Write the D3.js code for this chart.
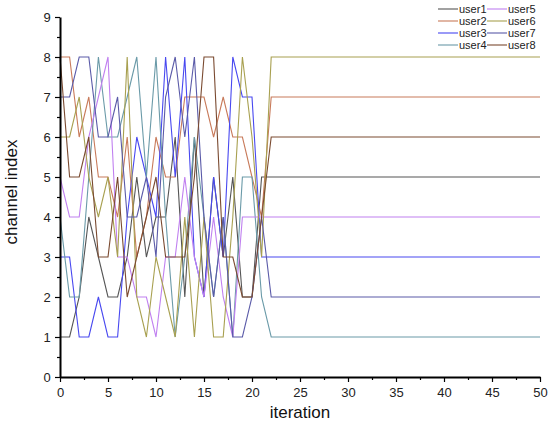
<!DOCTYPE html>
<html><head><meta charset="utf-8">
<script src="https://cdn.jsdelivr.net/npm/d3@7/dist/d3.min.js"></script>
<style>body{margin:0;background:#fff;font-family:"Liberation Sans",Arial,sans-serif}</style>
</head><body><svg id="c" width="550" height="434"></svg>
<script>
const iterations = [0,1,2,3,4,5,6,7,8,9,10,11,12,13,14,15,16,17,18,19,20,21,22,50];
const user1 = [1,1,2,4,3,2,2,3,5,3,4,4,6,2,6,2,5,3,5,2,2,5,5,5];
const user2 = [8,8,6,7,5,5,4,6,3,4,6,5,5,7,7,7,6,7,6,6,5,4,7,7];
const user3 = [3,3,1,1,2,1,1,4,6,5,4,8,5,8,3,2,5,3,8,7,7,3,3,3];
const user4 = [4,2,2,5,8,6,6,7,8,5,8,4,1,3,6,4,2,4,1,5,5,2,1,1];
const user5 = [5,4,4,6,7,8,3,3,2,2,1,3,3,5,3,2,4,2,1,4,4,4,4,4];
const user6 = [6,6,7,5,4,5,3,8,2,1,3,2,1,4,1,4,1,1,4,8,6,3,8,8];
const user7 = [7,7,8,8,6,6,7,4,4,5,3,7,8,6,8,4,2,4,1,1,2,4,2,2];
const user8 = [8,5,5,6,3,3,5,2,3,4,5,3,3,3,5,8,8,3,3,2,2,4,6,6];
const seriesNames = ["user1","user2","user3","user4","user5","user6","user7","user8"];
const seriesValues = [user1,user2,user3,user4,user5,user6,user7,user8];
const colors = ["#555555","#c87a5a","#4848f0","#6a9aa8","#c080f0","#a8a050","#5a5aa8","#7a4a30"];
const xTicks = [0,5,10,15,20,25,30,35,40,45,50];
const yTicks = [0,1,2,3,4,5,6,7,8,9];

const svg = d3.select("#c");
const x = d3.scaleLinear().domain([0,50]).range([60,540]);
const y = d3.scaleLinear().domain([0,9]).range([377,17]);

const line = d3.line().x((d,i)=>x(iterations[i])).y(d=>y(d));
seriesValues.forEach((vals,k)=>{
  svg.append("path").datum(vals).attr("d",line)
    .attr("fill","none").attr("stroke",colors[k]).attr("stroke-width",1.1);
});

// axes
const xAxis = svg.append("g").attr("transform","translate(0,377)")
  .call(d3.axisBottom(x).tickValues(xTicks).tickSize(5).tickSizeOuter(0));
svg.append("g").attr("transform","translate(0,377)")
  .call(d3.axisBottom(x).tickValues(d3.range(2.5,50,5)).tickSize(3).tickFormat(""))
  .call(g=>g.select(".domain").remove());
const yAxis = svg.append("g").attr("transform","translate(60,0)")
  .call(d3.axisLeft(y).tickValues(yTicks).tickSize(5).tickSizeOuter(0));
svg.append("g").attr("transform","translate(60,0)")
  .call(d3.axisLeft(y).tickValues(d3.range(0.5,9,1)).tickSize(3).tickFormat(""))
  .call(g=>g.select(".domain").remove());
svg.selectAll(".domain").attr("stroke","#000").attr("stroke-width",2);
svg.selectAll(".tick line").attr("stroke","#000").attr("stroke-width",1.2);
svg.selectAll(".tick text").attr("font-size",13).attr("fill","#222")
  .attr("font-family","Liberation Sans, Arial, sans-serif");
xAxis.selectAll(".tick text").attr("dy","0.9em");
yAxis.selectAll(".tick text").attr("dx","-0.1em");

svg.append("text").attr("x",300).attr("y",418).attr("text-anchor","middle")
  .attr("font-size",17).attr("fill","#111").text("iteration");
svg.append("text").attr("transform","translate(17,192) rotate(-90)").attr("text-anchor","middle")
  .attr("font-size",17).attr("fill","#111").text("channel index");

// legend
const leg = svg.append("g");
seriesNames.forEach((n,k)=>{
  const col = k<4?0:1, row = k%4;
  const lx = col===0?438:487, ly = 9+row*12;
  leg.append("line").attr("x1",lx).attr("x2",lx+20).attr("y1",ly).attr("y2",ly)
    .attr("stroke",colors[k]).attr("stroke-width",1.1);
  leg.append("text").attr("x",lx+21).attr("y",ly+4).attr("font-size",11)
    .attr("fill","#222").text(n);
});
</script></body></html>
